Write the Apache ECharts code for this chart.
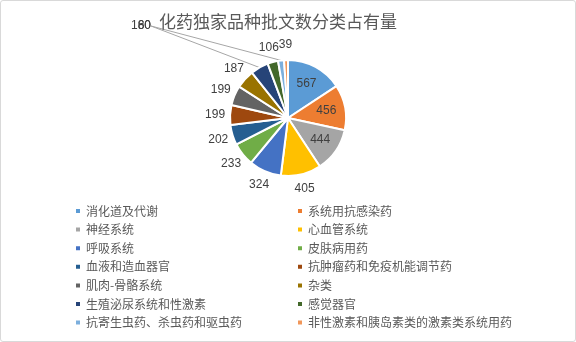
<!DOCTYPE html>
<html>
<head>
<meta charset="utf-8">
<script src="https://cdn.jsdelivr.net/npm/echarts@6/dist/echarts.min.js"></script>
<style>
html,body{margin:0;padding:0;background:#fff;}
#c{width:574px;height:340px;border:1px solid #d9d9d9;border-radius:3px;}
</style>
</head>
<body>
<div id="c"></div>
<script>
const titleText = '化药独家品种批文数分类占有量';
const categories = ['消化道及代谢','系统用抗感染药','神经系统','心血管系统','呼吸系统','皮肤病用药','血液和造血器官','抗肿瘤药和免疫机能调节药','肌肉-骨骼系统','杂类','生殖泌尿系统和性激素','感觉器官','抗寄生虫药、杀虫药和驱虫药','非性激素和胰岛素类的激素类系统用药'];
const values = [567,456,444,405,324,233,202,199,199,187,180,106,60,39];
const colors = ['#5B9BD5','#ED7D31','#A5A5A5','#FFC000','#4472C4','#70AD47','#255E91','#9E480E','#636363','#997300','#264478','#43682B','#7CAFDD','#F1975A'];

const CX = 287, CY = 117, R = 58;
const insideIdx = [0,1,2];
const leaderIdx = [10,12];
const total = values.reduce((a,b)=>a+b,0);
const midAngles = [];
let acc = 0;
values.forEach(v=>{ midAngles.push((acc + v/2)/total*2*Math.PI); acc += v; });

const data = categories.map((n,i)=>{
  const item = {name:n, value:values[i]};
  if (insideIdx.includes(i)) {
    item.label = {position:'inside'};
  } else if (leaderIdx.includes(i)) {
    item.labelLine = {show:true};
  } else {
    item.labelLine = {show:false};
  }
  return item;
});
const leftNames = categories.filter((_,i)=>i%2===0);
const rightNames = categories.filter((_,i)=>i%2===1);
const legendCommon = {
  orient:'vertical', top:204, itemWidth:6, itemHeight:6, itemGap:6.6, padding:0,
  icon:'rect',
  textStyle:{fontSize:12, color:'#595959', fontFamily:'Noto Sans CJK SC', lineHeight:12, padding:0}
};
const chart = echarts.init(document.getElementById('c'));
chart.setOption({
  animation:false,
  color:colors,
  title:{text:titleText, left:158, top:12, padding:0,
    textStyle:{fontSize:17, fontWeight:'normal', color:'#595959', fontFamily:'Noto Sans CJK SC'}},
  legend:[
    Object.assign({left:73, data:leftNames}, legendCommon),
    Object.assign({left:295, data:rightNames}, legendCommon)
  ],
  series:[{
    type:'pie',
    center:[CX,CY],
    radius:R,
    startAngle:90,
    clockwise:true,
    avoidLabelOverlap:false,
    itemStyle:{borderColor:'#fff', borderWidth:2},
    label:{show:true, position:'outside', formatter:'{c}', fontSize:12, color:'#404040', fontFamily:'Liberation Sans', distanceToLabelLine:0},
    labelLine:{length:6, length2:0, lineStyle:{color:'#a6a6a6', width:1}},
    emphasis:{disabled:true},
    labelLayout:function(p){
      const i = p.dataIndex;
      if (leaderIdx.includes(i)) {
        return {x:150, y:25, align:'right', verticalAlign:'middle'};
      }
      const d = insideIdx.includes(i) ? 39 : 73;
      const a = midAngles[i];
      return {x: CX + d*Math.sin(a), y: CY - d*Math.cos(a), align:'center', verticalAlign:'middle'};
    },
    data:data
  }]
});
</script>
</body>
</html>
